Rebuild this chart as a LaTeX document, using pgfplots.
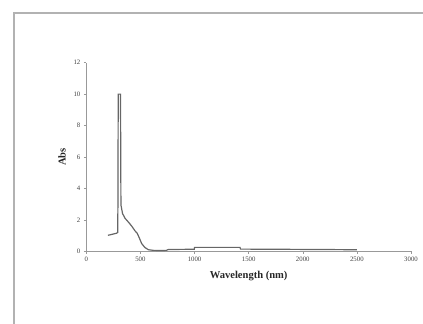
\documentclass[border=0pt]{standalone}
\usepackage{pgfplots}
\pgfplotsset{compat=1.18}
\usepackage{fontspec}
\setmainfont{Liberation Serif}
\begin{document}
\begin{tikzpicture}[x=1bp,y=1bp]
\useasboundingbox (0,0) rectangle (423,324);
\clip (0,0) rectangle (423,324);
\draw[line width=1.5bp, gray!60] (14,-10) -- (14,311) -- (440,311);
\begin{axis}[
  at={(86.3bp,72.7bp)}, anchor=origin,
  scale only axis, width=324.7bp, height=188.6bp,
  xmin=0, xmax=3000, ymin=0, ymax=12,
  axis x line=bottom, axis y line=left,
  axis line style={-, gray!80, line width=0.6bp},
  xtick={0,500,...,3000}, ytick={0,2,...,12},
  tick align=outside, major tick length=2.5bp,
  tick style={gray!80, line width=0.5bp},
  ticklabel style={font=\fontsize{6.8}{7}\selectfont, text=black!75},
  /pgf/number format/assume math mode=true,
  scaled x ticks=false,
  xticklabel style={/pgf/number format/1000 sep={}},
  xlabel={\textbf{Wavelength (nm)}},
  ylabel={\textbf{Abs}},
  label style={font=\fontsize{10.6}{12}\selectfont, text=black!85},
  xlabel style={yshift=-2bp},
  ylabel style={yshift=1bp},
  clip=false,
]
\addplot[color=black!60, line width=1.2bp, mark=none] coordinates {
(200,1.02) (220,1.05) (250,1.1) (280,1.15) (290,1.2)
(292,2.8) (295,10) (316,10) (320,2.95)
(335,2.4) (358,2.1) (390,1.85) (420,1.6) (450,1.3) (470,1.15)
(490,0.85) (511,0.5) (540,0.25) (573,0.1) (620,0.06) (700,0.05)
(740,0.06) (760,0.12) (850,0.12) (998,0.13) (1000,0.25)
(1420,0.25) (1425,0.14) (2000,0.12) (2500,0.1)
};
\end{axis}
\end{tikzpicture}
\end{document}
